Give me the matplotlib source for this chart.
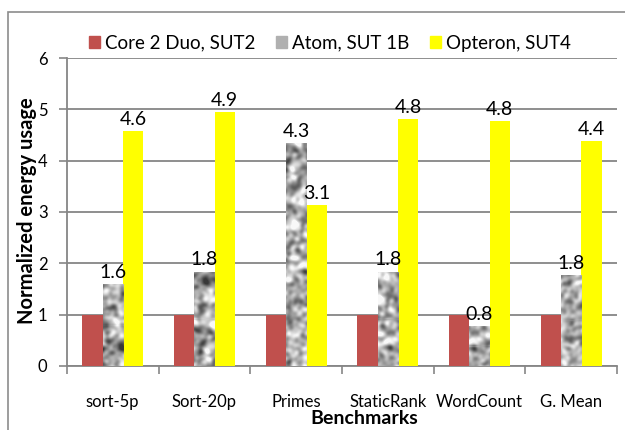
import numpy as np
import matplotlib
matplotlib.use("Agg")
import matplotlib.pyplot as plt
from matplotlib.patches import Rectangle

plt.rcParams['font.family'] = ['Lato', 'DejaVu Sans']

categories = ["sort-5p", "Sort-20p", "Primes", "StaticRank", "WordCount", "G. Mean"]
core2 = [1, 1, 1, 1, 1, 1]
atom = [1.6, 1.84, 4.34, 1.84, 0.78, 1.78]
opteron = [4.57, 4.94, 3.14, 4.81, 4.78, 4.39]
series_names = ["Core 2 Duo, SUT2", "Atom, SUT 1B", "Opteron, SUT4"]
yticks = [0, 1, 2, 3, 4, 5, 6]

fig = plt.figure(figsize=(6.25, 4.3), dpi=100)
ax = fig.add_axes([0.107, 0.149, 0.880, 0.716])

# outer chart border
border = Rectangle((8/625, -0.1), 1.2, 1.1 - 12/430, transform=fig.transFigure,
                   fill=False, edgecolor='#8c8c8c', linewidth=1.2, clip_on=False)
fig.patches.append(border)

x = np.arange(len(categories))
w = 0.222
gray = '#868686'

b1 = ax.bar(x - w, core2, w, color='#C0504D', zorder=3, label=series_names[0])
b2 = ax.bar(x, atom, w, color='#a8a8a8', zorder=3, label=series_names[1])
b3 = ax.bar(x + w, opteron, w, color='#FFFF00', zorder=3, label=series_names[2])

# granite-like texture for the Atom bars (decorative only)
rng = np.random.default_rng(7)
H, W = 512, 64
noise = rng.random((H, W))
f = np.fft.fft2(noise)
ky = np.fft.fftfreq(H)[:, None]
kx = np.fft.fftfreq(W)[None, :]
f *= np.exp(-(kx**2 + ky**2) / (2 * 0.075**2))
f[0, 0] = 0
tex = np.real(np.fft.ifft2(f))
tex = (tex - tex.mean()) / tex.std()
tex = np.clip(0.68 + 0.15 * tex, 0.22, 0.97)
px_per_unit = 308 / 6.0
for i, bar in enumerate(b2):
    bx, by = bar.get_x(), bar.get_y()
    bw, bh = bar.get_width(), bar.get_height()
    rows = max(int(round(bh * px_per_unit)), 2)
    off = (i * 53) % (H - 230)
    sub = tex[off:off + rows, (i * 7) % 40:(i * 7) % 40 + 21]
    im = ax.imshow(sub, cmap='gray', vmin=0, vmax=1, extent=(bx, bx + bw, by, by + bh),
                   aspect='auto', zorder=3.5, interpolation='nearest')
    im.set_clip_path(bar)

for bars, vals in ((b2, atom), (b3, opteron)):
    for bar, v in zip(bars, vals):
        ax.text(bar.get_x() + bar.get_width() / 2, v + 0.06, f"{v:.1f}",
                ha='center', va='bottom', fontsize=14, zorder=5)

ax.set_xlim(-0.5, len(categories) - 0.5)
ax.set_ylim(0, 6)
ax.set_yticks(yticks)
ax.set_yticklabels([str(t) for t in yticks], fontsize=12)
ax.set_xticks(x)
ax.set_xticklabels(categories, fontsize=12)
ax.set_xticks(np.arange(len(categories) + 1) - 0.5, minor=True)
ax.tick_params(axis='x', which='major', length=0, pad=20)
ax.tick_params(axis='x', which='minor', length=6, color=gray, width=1.2)
ax.tick_params(axis='y', length=6, color=gray, width=1.2, pad=8)
ax.yaxis.grid(True, color=gray, linewidth=1.3, zorder=0)
ax.set_axisbelow(True)
for s in ('top', 'right'):
    ax.spines[s].set_visible(False)
for s in ('left', 'bottom'):
    ax.spines[s].set_color(gray)
    ax.spines[s].set_linewidth(1.3)

fig.text(27/625, 1 - 211/430, "Normalized energy usage", rotation=90, ha='center', va='center',
         fontsize=14.5, fontweight='bold')
fig.text(364/625, 1 - 418/430, "Benchmarks", ha='center', va='center', fontsize=14, fontweight='bold')

handles = [Rectangle((0, 0), 1, 1, color='#C0504D'), Rectangle((0, 0), 1, 1, color='#b0b0b0'),
           Rectangle((0, 0), 1, 1, color='#FFFF00')]
fig.legend(handles, series_names, loc='center', bbox_to_anchor=(330/625, 1 - 43/430), ncol=3,
           frameon=False, fontsize=13.5, handlelength=0.6, handleheight=0.6, handletextpad=0.25,
           columnspacing=1.1)

fig.savefig("out.png", dpi=100)
